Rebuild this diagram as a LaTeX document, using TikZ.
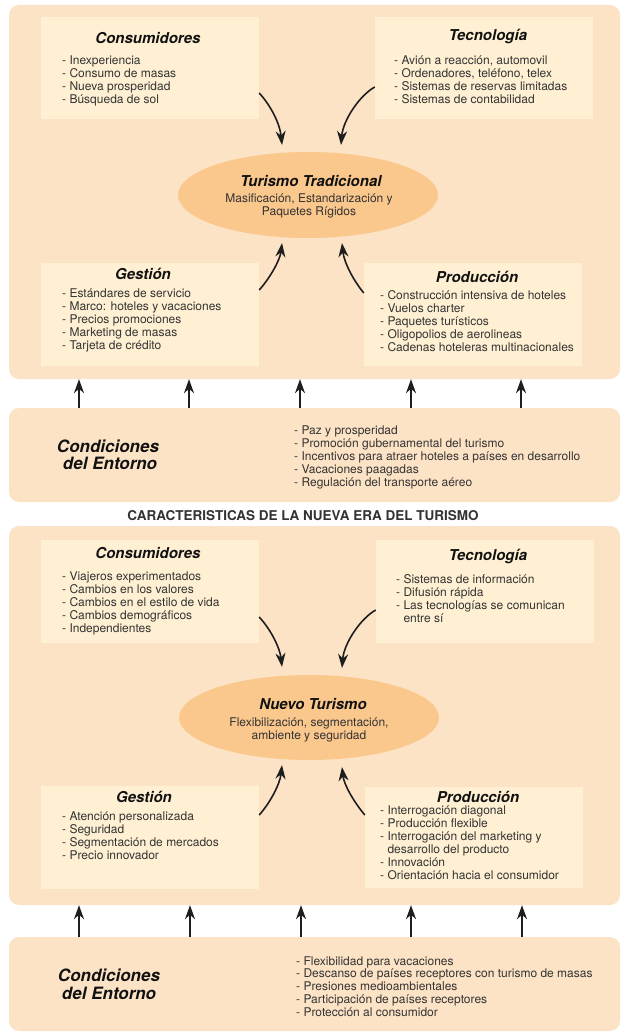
\documentclass[tikz,border=0pt]{standalone}
\usepackage{fontspec}
\setmainfont{TeX Gyre Heros}
\usetikzlibrary{arrows.meta,calc,shapes.geometric}
\definecolor{panelc}{HTML}{FDE3C6}
\definecolor{boxc}{HTML}{FFF0D3}
\definecolor{ellc}{HTML}{FAC78C}
\definecolor{txtc}{HTML}{333333}
\definecolor{ttlc}{HTML}{111111}
\definecolor{arrc}{HTML}{1E1E1E}
\begin{document}
\begin{tikzpicture}[x=1pt,y=-1pt,
  panel/.style={fill=panelc, rounded corners=10pt, inner sep=0pt, minimum width=611pt},
  box/.style={fill=boxc, inner sep=0pt, minimum width=218pt},
  ell/.style={ellipse, fill=ellc, inner sep=0pt, minimum width=260pt},
  ttl/.style={anchor=base, inner sep=0pt, font=\fontsize{15}{18}\selectfont\bfseries\itshape, text=ttlc},
  itm/.style={anchor=base west, inner sep=0pt, font=\fontsize{12}{13}\selectfont, text=txtc},
  sub/.style={anchor=base, inner sep=0pt, font=\fontsize{12}{13}\selectfont, text=txtc},
  cond/.style={anchor=base, inner sep=0pt, font=\fontsize{17}{18}\selectfont\bfseries\itshape, text=ttlc},
  hdr/.style={anchor=base, inner sep=0pt, font=\fontsize{13.5}{15}\selectfont\bfseries, text=txtc},
  carrow/.style={draw=arrc, line width=1.6pt, -{Stealth[length=14pt,width=10pt,inset=4.5pt]}},
  uarrow/.style={draw=arrc, line width=1.3pt, -{Stealth[length=14pt,width=10pt,inset=4.5pt]}}
]
\useasboundingbox (0,0) rectangle (624,1032);
\fill[white] (0,0) rectangle (624,1032);

% ================= TOP HALF =================
\node[panel, minimum height=374pt] (panel1) at (314.5,192) {};
\node[box, minimum height=102pt] (cons1) at (150,68) {};
\node[box, minimum height=102pt] (tec1) at (484,68) {};
\node[box, minimum height=103pt] (ges1) at (150,314.5) {};
\node[box, minimum height=103pt] (prod1) at (473,314.5) {};
\node[ell, minimum height=86pt] (ell1) at (308,195) {};

\node[ttl] (cons1t) at (148,44) {Consumidores};
\foreach \t [count=\i] in {Inexperiencia, Consumo de masas, Nueva prosperidad, Búsqueda de sol}
  \node[itm] (cons1i\i) at (62,52+13*\i) {- \t};

\node[ttl] (tec1t) at (488,41) {Tecnología};
\foreach \t [count=\i] in {{Avión a reacción, automovil}, {Ordenadores, teléfono, telex}, Sistemas de reservas limitadas, Sistemas de contabilidad}
  \node[itm] (tec1i\i) at (394,52+13*\i) {- \t};

\node[ttl] (ell1t) at (311,187) {Turismo Tradicional};
\node[sub] (ell1s1) at (309,203) {Masificación, Estandarización y};
\node[sub] (ell1s2) at (309,216) {Paquetes Rígidos};

\node[ttl] (ges1t) at (143,279) {Gestión};
\foreach \t [count=\i] in {Estándares de servicio, Marco: hoteles y vacaciones, Precios promociones, Marketing de masas, Tarjeta de crédito}
  \node[itm] (ges1i\i) at (62,284+13*\i) {- \t};

\node[ttl] (prod1t) at (477,282) {Producción};
\foreach \t [count=\i] in {Construcción intensiva de hoteles, Vuelos charter, Paquetes turísticos, Oligopolios de aerolineas, Cadenas hoteleras multinacionales}
  \node[itm] (prod1i\i) at (380,286+13*\i) {- \t};

\draw[carrow] ($(cons1.east)+(0,25)$) .. controls (272,107) and (280,125) .. ($(ell1.center)+(-26,-50)$);
\draw[carrow] ($(tec1.west)+(0,19)$) .. controls (360,95) and (343,120) .. ($(ell1.center)+(33,-50)$);
\draw[carrow] ($(ges1.east)+(0,-24.5)$) .. controls (270,278) and (280,260) .. ($(ell1.center)+(-26,48)$);
\draw[carrow] ($(prod1.west)+(0,-21.5)$) .. controls (353,280) and (344,262) .. ($(ell1.center)+(34,48)$);

\node[panel, minimum height=94pt] (cond1) at (314.5,455) {};
\node[cond] (cond1a) at (108,452) {Condiciones};
\node[cond] (cond1b) at (110,469) {del Entorno};
\foreach \t [count=\i] in {Paz y prosperidad, Promoción gubernamental del turismo, Incentivos para atraer hoteles a países en desarrollo, Vacaciones paagadas, Regulación del transporte aéreo}
  \node[itm] (cond1i\i) at (294,421+13*\i) {- \t};

\foreach \x in {79,189,300,411,521}
  \draw[uarrow] (\x,0 |- cond1.north) -- (\x,0 |- panel1.south);

\node[hdr] (hdr) at (303,520) {CARACTERISTICAS DE LA NUEVA ERA DEL TURISMO};

% ================= BOTTOM HALF =================
\node[panel, minimum height=379pt] (panel2) at (314.5,715.5) {};
\node[box, minimum height=103pt] (cons2) at (150,591.5) {};
\node[box, minimum height=103pt] (tec2) at (485,591.5) {};
\node[box, minimum height=103pt] (ges2) at (150,837.5) {};
\node[box, minimum height=101pt] (prod2) at (474,837.5) {};
\node[ell, minimum height=85pt] (ell2) at (309,717.5) {};

\node[ttl] (cons2t) at (148,558) {Consumidores};
\foreach \t [count=\i] in {Viajeros experimentados, Cambios en los valores, Cambios en el estilo de vida, Cambios demográficos, Independientes}
  \node[itm] (cons2i\i) at (62,567+13*\i) {- \t};

\node[ttl] (tec2t) at (488,560) {Tecnología};
\foreach \t [count=\i] in {Sistemas de información, Difusión rápida, Las tecnologías se comunican}
  \node[itm] (tec2i\i) at (396,570+13*\i) {- \t};
\node[itm] (tec2i4) at (396,622) {\phantom{- }entre sí};

\node[ttl] (ell2t) at (313,709) {Nuevo Turismo};
\node[sub] (ell2s1) at (309,726) {Flexibilización, segmentación,};
\node[sub] (ell2s2) at (309,739) {ambiente y seguridad};

\node[ttl] (ges2t) at (144,802) {Gestión};
\foreach \t [count=\i] in {Atención personalizada, Seguridad, Segmentación de mercados, Precio innovador}
  \node[itm] (ges2i\i) at (62,807+13*\i) {- \t};

\node[ttl] (prod2t) at (478,802) {Producción};
\node[itm] (prod2i1) at (380,814) {- Interrogación diagonal};
\node[itm] (prod2i2) at (380,827) {- Producción flexible};
\node[itm] (prod2i3) at (380,840) {- Interrogación del marketing y};
\node[itm] (prod2i4) at (380,853) {\phantom{- }desarrollo del producto};
\node[itm] (prod2i5) at (380,866) {- Innovación};
\node[itm] (prod2i6) at (380,879) {- Orientación hacia el consumidor};

\draw[carrow] ($(cons2.east)+(0,25.5)$) .. controls (272,631) and (280,649) .. ($(ell2.center)+(-27,-50.5)$);
\draw[carrow] ($(tec2.west)+(0,18.5)$) .. controls (361,618) and (344,643) .. ($(ell2.center)+(33,-49.5)$);
\draw[carrow] ($(ges2.east)+(0,-22.5)$) .. controls (270,803) and (280,784) .. ($(ell2.center)+(-27,47.5)$);
\draw[carrow] ($(prod2.west)+(0,-22.5)$) .. controls (354,802) and (344,785) .. ($(ell2.center)+(33,49.5)$);

\node[panel, minimum height=94pt] (cond2) at (314.5,984) {};
\node[cond] (cond2a) at (109,981) {Condiciones};
\node[cond] (cond2b) at (109,999) {del Entorno};
\foreach \t [count=\i] in {Flexibilidad para vacaciones, Descanso de países receptores con turismo de masas, Presiones medioambientales, Participación de países receptores, Protección al consumidor}
  \node[itm] (cond2i\i) at (296,952.2+12.8*\i) {- \t};

\foreach \x in {79,190,301,411,522}
  \draw[uarrow] (\x,0 |- cond2.north) -- (\x,0 |- panel2.south);
\end{tikzpicture}
\end{document}
